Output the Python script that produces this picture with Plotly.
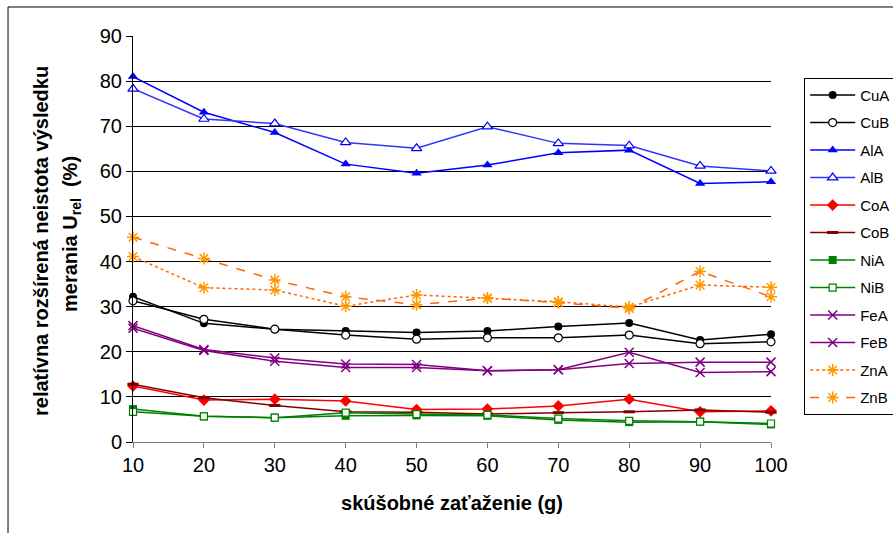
import plotly.graph_objects as go

x_vals = [10, 20, 30, 40, 50, 60, 70, 80, 90, 100]

cu_a = [32.2, 26.3, 25.0, 24.6, 24.3, 24.6, 25.6, 26.4, 22.6, 23.9]
cu_b = [31.3, 27.2, 25.0, 23.7, 22.8, 23.1, 23.1, 23.7, 21.8, 22.2]
al_a = [81.0, 73.1, 68.6, 61.6, 59.6, 61.4, 64.1, 64.7, 57.3, 57.7]
al_b = [78.3, 71.6, 70.6, 66.4, 65.1, 69.9, 66.2, 65.7, 61.2, 60.1]
co_a = [12.4, 9.3, 9.5, 9.1, 7.2, 7.3, 8.0, 9.5, 6.7, 6.9]
co_b = [12.8, 9.8, 8.1, 6.7, 6.6, 6.2, 6.5, 6.7, 7.1, 6.6]
ni_a = [7.3, 5.7, 5.4, 5.8, 5.9, 5.8, 4.9, 4.4, 4.5, 3.9]
ni_b = [6.7, 5.7, 5.4, 6.5, 6.2, 6.0, 5.2, 4.7, 4.5, 4.1]
fe_a = [25.8, 20.5, 18.6, 17.3, 17.2, 15.8, 16.0, 19.9, 15.4, 15.6]
fe_b = [25.2, 20.3, 17.9, 16.5, 16.5, 15.8, 16.0, 17.4, 17.7, 17.7]
zn_a = [41.1, 34.2, 33.7, 30.1, 32.6, 31.9, 31.1, 29.9, 34.8, 34.3]
zn_b = [45.4, 40.7, 35.9, 32.2, 30.4, 31.9, 30.9, 29.6, 37.8, 32.2]

y_ticks = [0, 10, 20, 30, 40, 50, 60, 70, 80, 90]

series = [
    ("CuA", cu_a, "#000000", "solid", dict(symbol="circle", size=8, color="#000000")),
    ("CuB", cu_b, "#000000", "solid", dict(symbol="circle", size=8, color="#ffffff", line=dict(color="#000000", width=1.2))),
    ("AlA", al_a, "#0000ff", "solid", dict(symbol="triangle-up", size=9, color="#0000ff")),
    ("AlB", al_b, "#3333ff", "solid", dict(symbol="triangle-up", size=9, color="#ffffff", line=dict(color="#0000ff", width=1.2))),
    ("CoA", co_a, "#ff0000", "solid", dict(symbol="diamond", size=9, color="#ff0000")),
    ("CoB", co_b, "#800000", "solid", dict(symbol="line-ew", size=8, color="#800000", line=dict(color="#800000", width=3))),
    ("NiA", ni_a, "#008000", "solid", dict(symbol="square", size=8, color="#008000")),
    ("NiB", ni_b, "#008000", "solid", dict(symbol="square", size=7, color="#ffffff", line=dict(color="#008000", width=1.2))),
    ("FeA", fe_a, "#800080", "solid", dict(symbol="x-thin", size=9, color="#800080", line=dict(color="#800080", width=1.5))),
    ("FeB", fe_b, "#800080", "solid", dict(symbol="x-thin", size=9, color="#800080", line=dict(color="#800080", width=1.5))),
    ("ZnA", zn_a, "#ff6600", "dot", dict(symbol="asterisk", size=10, color="#ff9900", line=dict(color="#ff9900", width=1.5))),
    ("ZnB", zn_b, "#ff6600", "dash", dict(symbol="asterisk", size=10, color="#ff9900", line=dict(color="#ff9900", width=1.5))),
]

fig = go.Figure()
for name, vals, col, dash, mk in series:
    fig.add_trace(go.Scatter(
        x=x_vals, y=vals, name=name, mode="lines+markers",
        line=dict(color=col, width=1.5, dash=dash),
        marker=mk, cliponaxis=False, legendgroup=name,
    ))

font_family = "Liberation Sans, Arial, sans-serif"

fig.update_layout(
    width=893, height=533,
    margin=dict(l=133, r=122, t=36, b=91, autoexpand=False),
    plot_bgcolor="#ffffff", paper_bgcolor="#ffffff",
    font=dict(family=font_family, color="#000000"),
    showlegend=True,
    legend=dict(
        x=1.052, y=0.897, xanchor="left", yanchor="top",
        bordercolor="#000000", borderwidth=1, bgcolor="#ffffff",
        font=dict(size=15, family=font_family),
        tracegroupgap=5, itemwidth=45,
    ),
    xaxis=dict(
        range=[10, 100], tickvals=x_vals, showgrid=False,
        showline=True, linecolor="#808080", linewidth=1,
        ticks="outside", ticklen=5, tickcolor="#808080",
        tickfont=dict(size=20), zeroline=False,
        title=dict(text="<b>skúšobné zaťaženie (g)</b>", font=dict(size=20), standoff=20),
    ),
    yaxis=dict(
        range=[0, 90], tickvals=y_ticks, showgrid=True, gridcolor="#000000", gridwidth=1,
        showline=True, linecolor="#000000", linewidth=1,
        ticks="outside", ticklen=6, tickcolor="#000000",
        tickfont=dict(size=20), zeroline=False,
    ),
)

fig.add_annotation(
    text="<b>relatívna rozšírená neistota výsledku</b>",
    xref="paper", yref="paper", x=-0.1442, y=0.495,
    xanchor="center", yanchor="middle", textangle=-90, showarrow=False,
    font=dict(size=20, family=font_family, color="#000000"),
)
fig.add_annotation(
    text="<b>merania U<sub>rel</sub>  (%)</b>",
    xref="paper", yref="paper", x=-0.0972, y=0.5123,
    xanchor="center", yanchor="middle", textangle=-90, showarrow=False,
    font=dict(size=20, family=font_family, color="#000000"),
)

fig.add_shape(type="rect", xref="paper", yref="paper",
              x0=-0.1959, x1=1.3, y0=-0.3, y1=1.0714,
              line=dict(color="#000000", width=1), fillcolor="rgba(0,0,0,0)", layer="below")

fig.write_html("out.html", config={"displayModeBar": False},
               post_script="document.body.style.margin='0px';document.body.style.overflow='hidden';")
